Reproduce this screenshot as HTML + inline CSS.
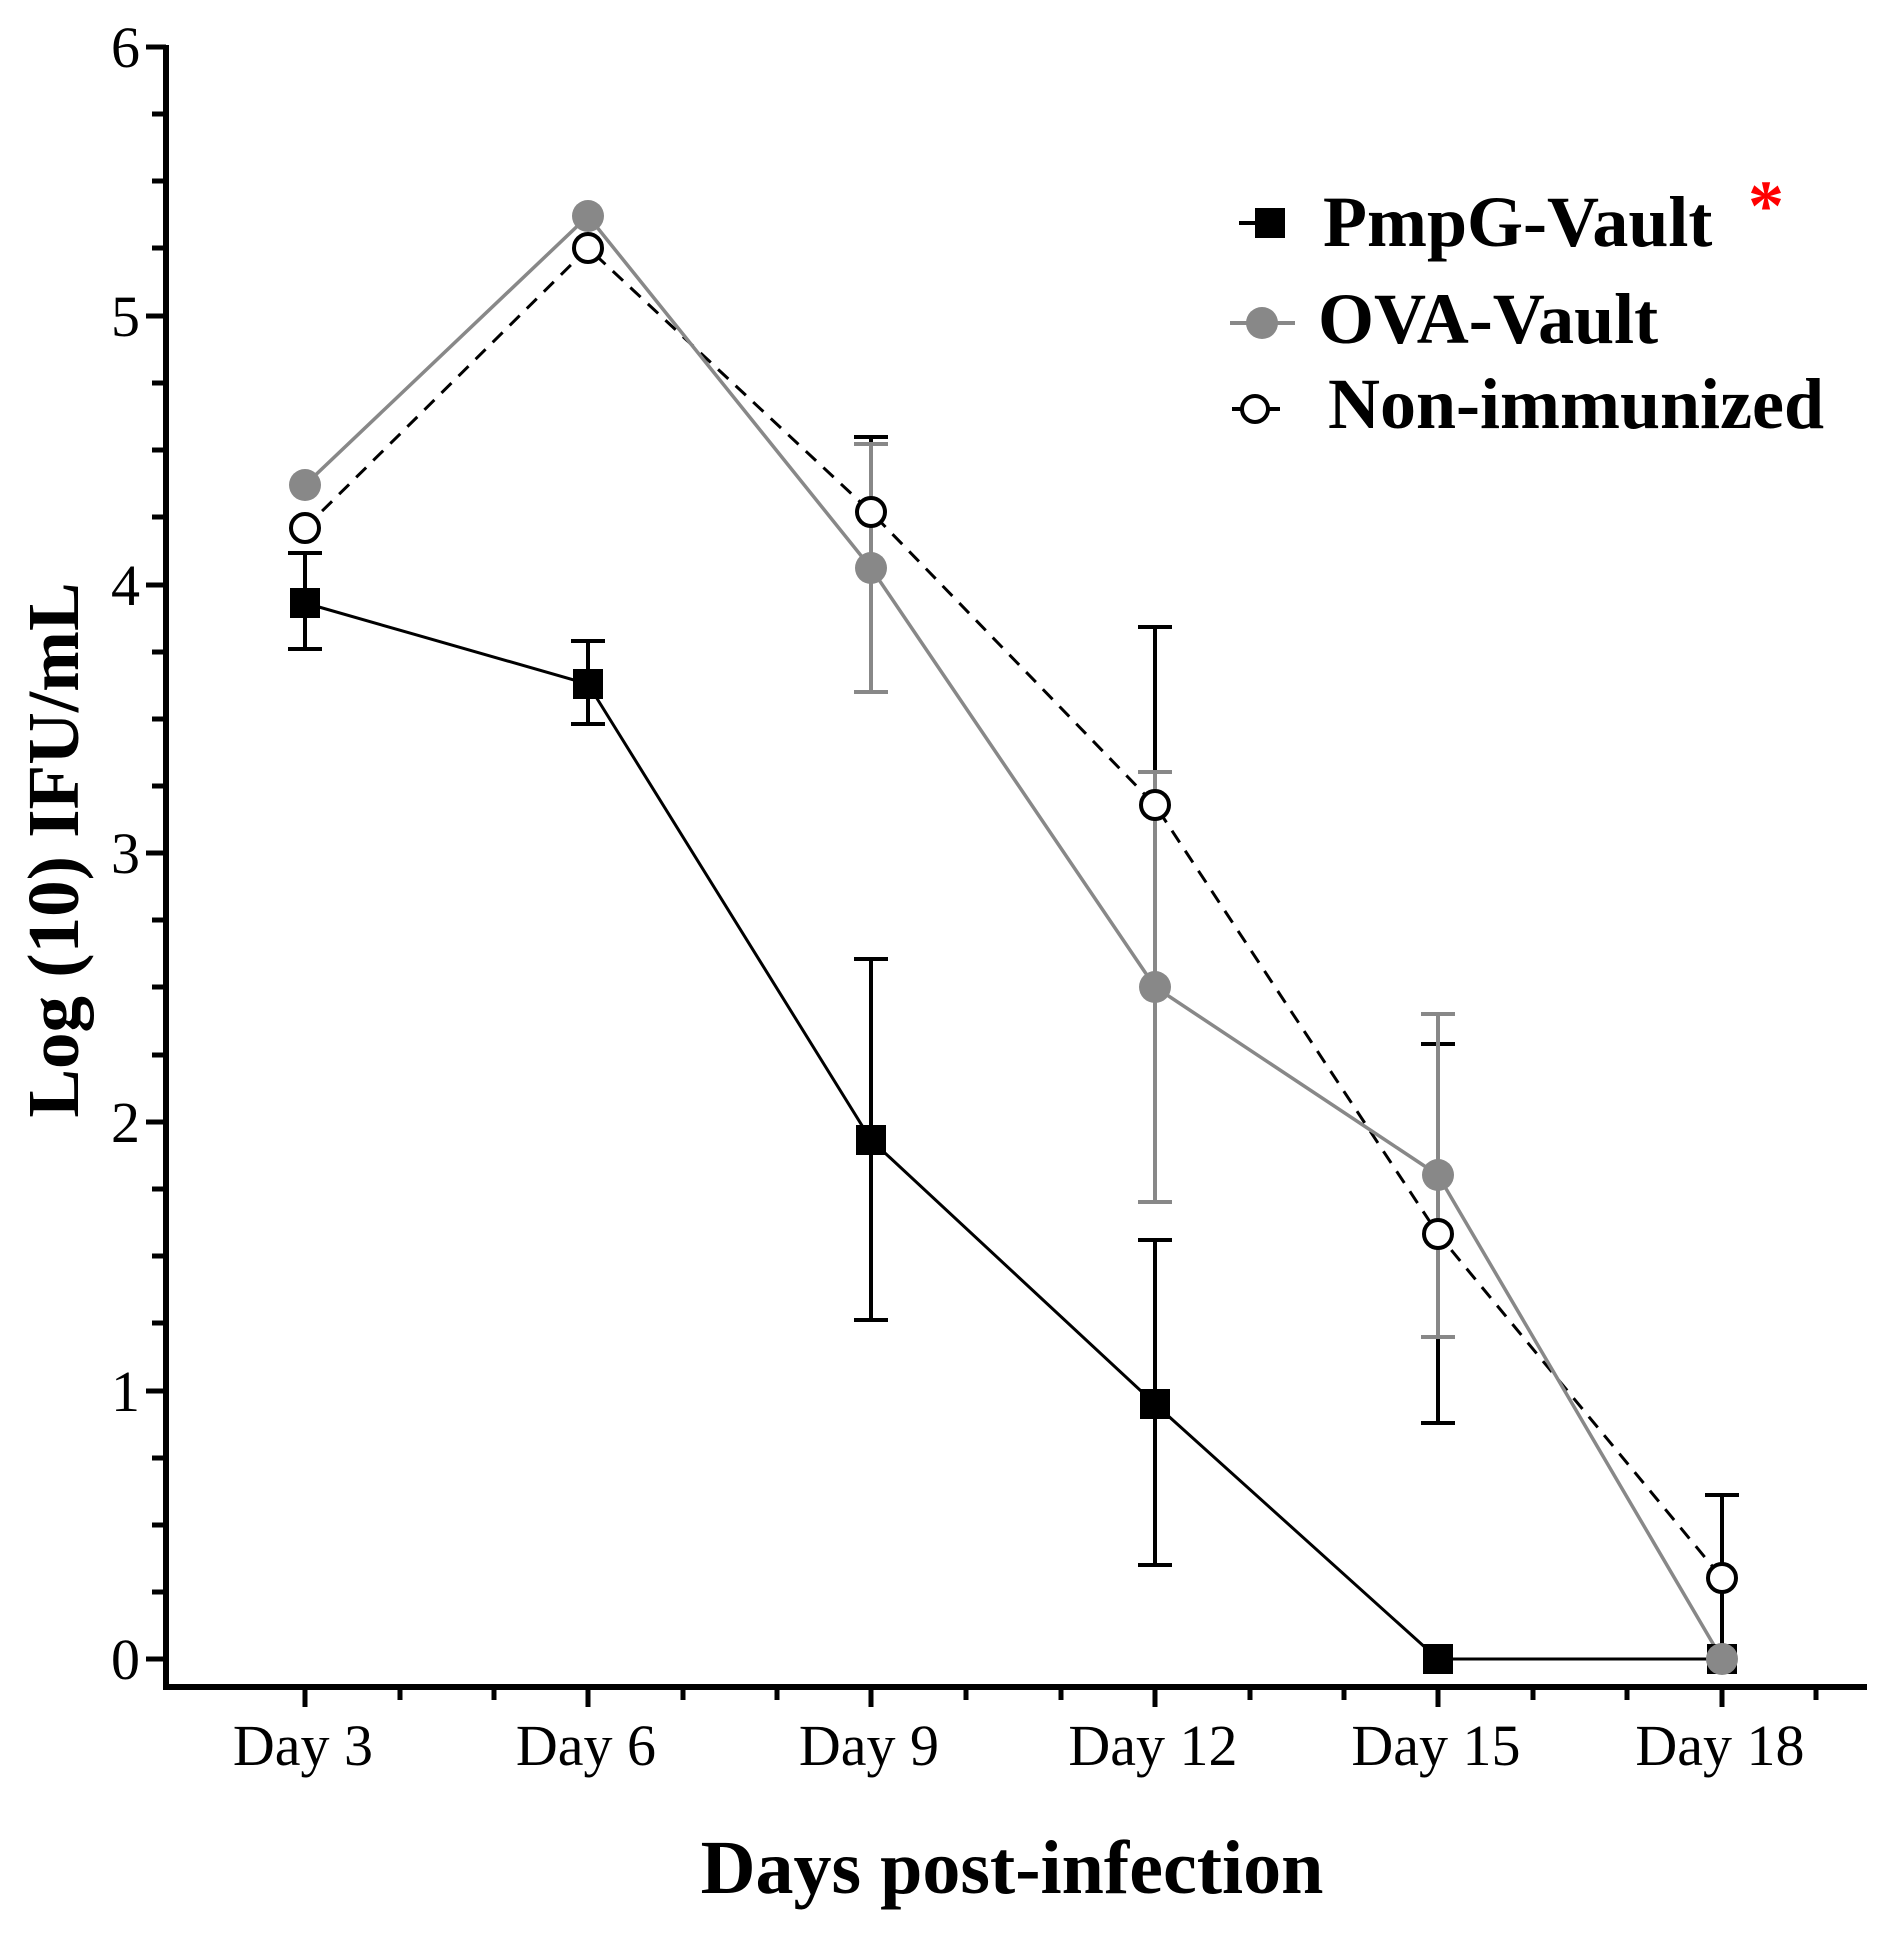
<!DOCTYPE html>
<html><head><meta charset="utf-8"><style>html,body{margin:0;padding:0;background:#fff}svg{display:block}</style></head>
<body>
<svg width="1881" height="1934" viewBox="0 0 1881 1934" xmlns="http://www.w3.org/2000/svg">
<g font-family="Liberation Serif, serif">
<!-- axes -->
<path d="M166 45 V1687 H1867" fill="none" stroke="#000" stroke-width="6"/>
<g stroke="#000" stroke-width="5">
<line x1="146" y1="47" x2="166" y2="47"/><line x1="146" y1="316" x2="166" y2="316"/><line x1="146" y1="585" x2="166" y2="585"/>
<line x1="146" y1="853" x2="166" y2="853"/><line x1="146" y1="1122" x2="166" y2="1122"/><line x1="146" y1="1391" x2="166" y2="1391"/><line x1="146" y1="1659" x2="166" y2="1659"/>
<line x1="152" y1="114" x2="166" y2="114"/><line x1="152" y1="181" x2="166" y2="181"/><line x1="152" y1="248" x2="166" y2="248"/>
<line x1="152" y1="383" x2="166" y2="383"/><line x1="152" y1="450" x2="166" y2="450"/><line x1="152" y1="517" x2="166" y2="517"/>
<line x1="152" y1="652" x2="166" y2="652"/><line x1="152" y1="719" x2="166" y2="719"/><line x1="152" y1="786" x2="166" y2="786"/>
<line x1="152" y1="920" x2="166" y2="920"/><line x1="152" y1="987" x2="166" y2="987"/><line x1="152" y1="1055" x2="166" y2="1055"/>
<line x1="152" y1="1189" x2="166" y2="1189"/><line x1="152" y1="1256" x2="166" y2="1256"/><line x1="152" y1="1323" x2="166" y2="1323"/>
<line x1="152" y1="1458" x2="166" y2="1458"/><line x1="152" y1="1525" x2="166" y2="1525"/><line x1="152" y1="1592" x2="166" y2="1592"/>
</g>
<g stroke="#000" stroke-width="5">
<line x1="305" y1="1687" x2="305" y2="1707"/><line x1="588" y1="1687" x2="588" y2="1707"/><line x1="871" y1="1687" x2="871" y2="1707"/>
<line x1="1155" y1="1687" x2="1155" y2="1707"/><line x1="1438" y1="1687" x2="1438" y2="1707"/><line x1="1722" y1="1687" x2="1722" y2="1707"/>
<line x1="400" y1="1687" x2="400" y2="1700"/><line x1="494" y1="1687" x2="494" y2="1700"/>
<line x1="683" y1="1687" x2="683" y2="1700"/><line x1="777" y1="1687" x2="777" y2="1700"/>
<line x1="966" y1="1687" x2="966" y2="1700"/><line x1="1061" y1="1687" x2="1061" y2="1700"/>
<line x1="1250" y1="1687" x2="1250" y2="1700"/><line x1="1344" y1="1687" x2="1344" y2="1700"/>
<line x1="1533" y1="1687" x2="1533" y2="1700"/><line x1="1627" y1="1687" x2="1627" y2="1700"/>
<line x1="1816" y1="1687" x2="1816" y2="1700"/>
</g>
<g font-size="58" text-anchor="end" fill="#000">
<text x="140" y="67">6</text><text x="140" y="336">5</text><text x="140" y="605">4</text><text x="140" y="873">3</text>
<text x="140" y="1142">2</text><text x="140" y="1411">1</text><text x="140" y="1679">0</text>
</g>
<g font-size="58" text-anchor="middle" fill="#000">
<text x="303" y="1765">Day 3</text><text x="586" y="1765">Day 6</text><text x="869" y="1765">Day 9</text>
<text x="1153" y="1765">Day 12</text><text x="1436" y="1765">Day 15</text><text x="1720" y="1765">Day 18</text>
</g>
<text x="1012" y="1893" font-size="76" font-weight="bold" text-anchor="middle">Days post-infection</text>
<text transform="translate(78,850) rotate(-90)" font-size="73" font-weight="bold" text-anchor="middle">Log (10) IFU/mL</text>

<!-- Non-immunized -->
<g stroke="#000" stroke-width="3" fill="none">
<polyline points="305,1527 305,1527" />
<polyline points="305,528 588,248 871,512 1155,805 1438,1234 1722,1578" stroke-dasharray="14,10"/>
<g stroke-width="4">
<path d="M871 437 V584 M854 437 H888"/>
<path d="M1155 627 V805 M1138 627 H1172"/>
<path d="M1438 1044 V1423 M1421 1044 H1455 M1421 1423 H1455"/>
<path d="M1722 1495 V1659 M1705 1495 H1739"/>
</g>
</g>
<!-- OVA -->
<g stroke="#888" stroke-width="3.5" fill="none">
<polyline points="305,485 588,216 871,568 1155,987 1438,1175 1722,1659"/>
<g stroke-width="4">
<path d="M871 444 V692 M854 444 H888 M854 692 H888"/>
<path d="M1155 772 V1202 M1138 772 H1172 M1138 1202 H1172"/>
<path d="M1438 1014 V1337 M1421 1014 H1455 M1421 1337 H1455"/>
</g>
</g>
<!-- PmpG -->
<g stroke="#000" stroke-width="4" fill="none">
<polyline points="305,603 588,684 871,1140 1155,1404 1438,1659 1722,1659" stroke-width="3"/>
<path d="M305 553 V649 M288 553 H322 M288 649 H322"/>
<path d="M588 641 V724 M571 641 H605 M571 724 H605"/>
<path d="M871 959 V1320 M854 959 H888 M854 1320 H888"/>
<path d="M1155 1240 V1565 M1138 1240 H1172 M1138 1565 H1172"/>
</g>
<g fill="#000">
<rect x="290" y="588" width="30" height="30"/><rect x="573" y="669" width="30" height="30"/>
<rect x="856" y="1125" width="30" height="30"/><rect x="1140" y="1389" width="30" height="30"/>
<rect x="1423" y="1644" width="30" height="30"/><rect x="1707" y="1644" width="30" height="30"/>
</g>
<g fill="#888">
<circle cx="305" cy="485" r="16"/><circle cx="588" cy="216" r="16"/><circle cx="871" cy="568" r="16"/>
<circle cx="1155" cy="987" r="16"/><circle cx="1438" cy="1175" r="16"/><circle cx="1722" cy="1659" r="16"/>
</g>
<g fill="#fff" stroke="#000" stroke-width="4">
<circle cx="305" cy="528" r="14"/><circle cx="588" cy="248" r="14"/><circle cx="871" cy="512" r="14"/>
<circle cx="1155" cy="805" r="14"/><circle cx="1438" cy="1234" r="14"/><circle cx="1722" cy="1578" r="14"/>
</g>

<!-- legend -->
<line x1="1239" y1="223" x2="1280" y2="223" stroke="#000" stroke-width="4"/>
<rect x="1255" y="208" width="30" height="30" fill="#000"/>
<line x1="1230" y1="323" x2="1295" y2="323" stroke="#888" stroke-width="4"/>
<circle cx="1262" cy="323" r="16" fill="#888"/>
<line x1="1232" y1="409" x2="1280" y2="409" stroke="#000" stroke-width="4"/>
<circle cx="1255" cy="409" r="13" fill="#fff" stroke="#000" stroke-width="4"/>
<g font-size="72" font-weight="bold" fill="#000">
<text x="1323" y="246">PmpG-Vault</text>
<text x="1318" y="343">OVA-Vault</text>
<text x="1328" y="428">Non-immunized</text>
</g>
<text x="1766" y="230" font-size="72" font-weight="bold" fill="#f00" text-anchor="middle">*</text>
</g>
</svg>
</body></html>
